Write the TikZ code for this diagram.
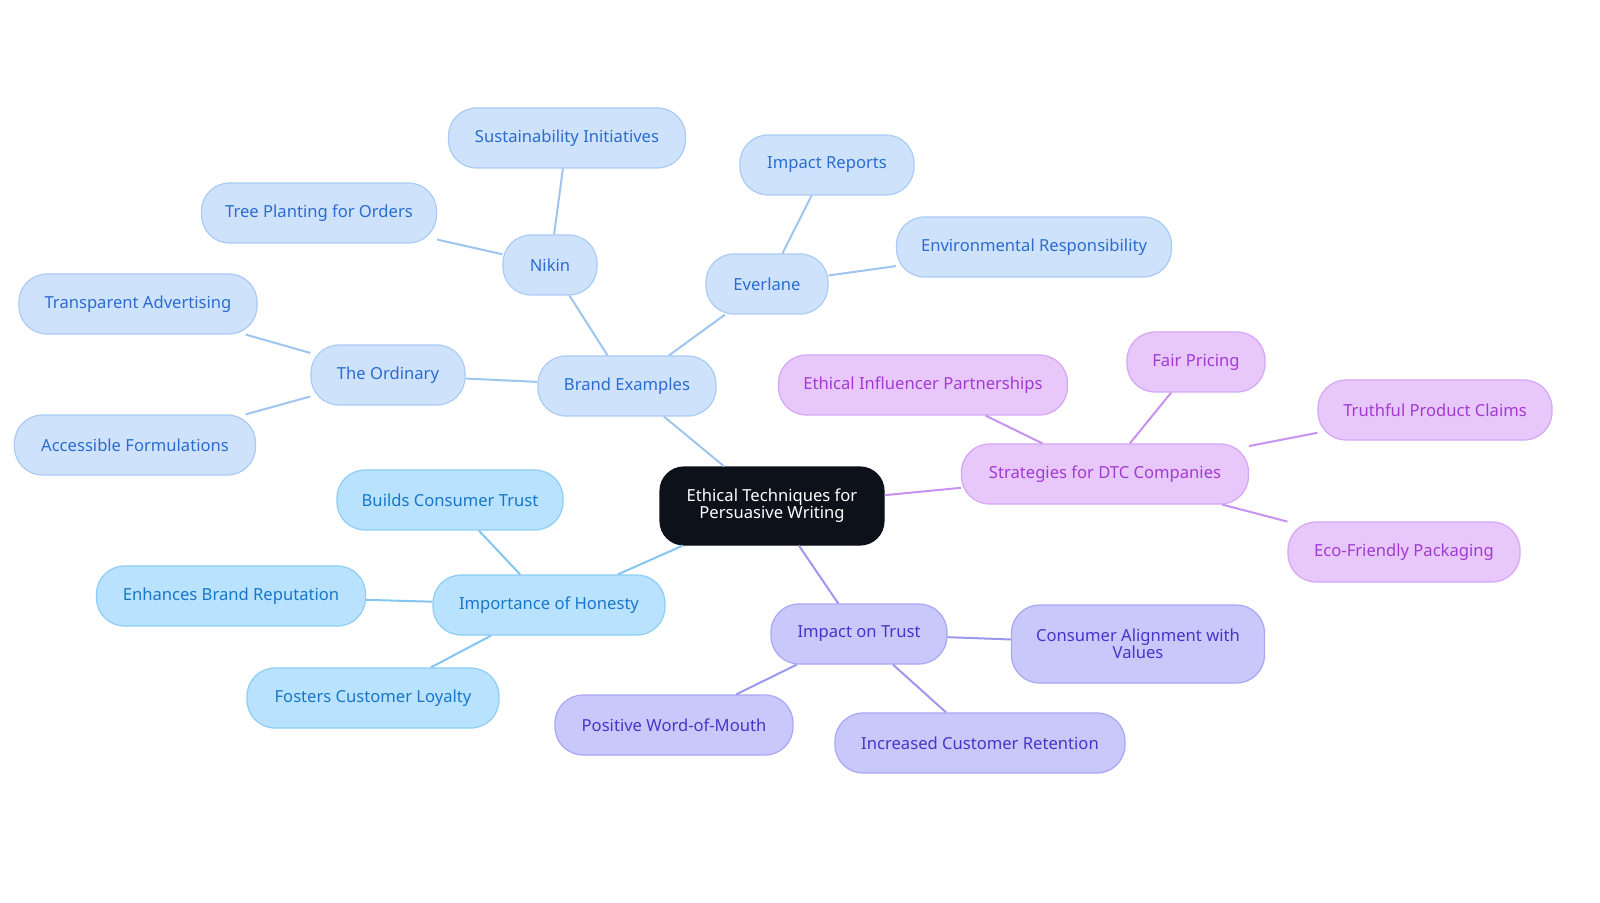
\documentclass[tikz,border=0pt]{standalone}
\usepackage{fontspec}
\setmainfont{Noto Sans}
\definecolor{bF}{HTML}{CFE2FC}\definecolor{bD}{HTML}{A9CBF5}\definecolor{bT}{HTML}{2A6CD0}\definecolor{bE}{HTML}{9EC5F0}
\definecolor{cF}{HTML}{B8E2FD}\definecolor{cD}{HTML}{8ECDF5}\definecolor{cT}{HTML}{1A76C8}\definecolor{cE}{HTML}{84C6F0}
\definecolor{pF}{HTML}{E8C8FB}\definecolor{pD}{HTML}{D5A6F5}\definecolor{pT}{HTML}{A23AD2}\definecolor{pE}{HTML}{C892F0}
\definecolor{lF}{HTML}{C9C8FB}\definecolor{lD}{HTML}{A9A6F5}\definecolor{lT}{HTML}{4535C8}\definecolor{lE}{HTML}{9C98F0}
\definecolor{kF}{HTML}{0C111A}
\tikzset{
 n/.style={rounded corners=14pt,draw,line width=0.6pt,align=center,inner sep=0pt,font=\fontsize{8.3}{8.5}\selectfont},
 B/.style={n,fill=bF,draw=bD,text=bT},
 C/.style={n,fill=cF,draw=cD,text=cT},
 P/.style={n,fill=pF,draw=pD,text=pT},
 L/.style={n,fill=lF,draw=lD,text=lT},
 e/.style={line width=1pt},
}
\newcommand{\nd}[6]{\node[#1,minimum width=#4*0.5pt,minimum height=#5*0.5pt] (#2) at (#3) {#6};}
\begin{document}
\begin{tikzpicture}[x=0.5pt,y=-0.5pt]
\useasboundingbox (0,0) rectangle (1600,903);
\nd{n,fill=kF,draw=kF,text=white,rounded corners=12pt}{c}{772,506}{224}{78}{Ethical Techniques for\\Persuasive Writing}
\nd{B}{be}{627,386}{178}{60}{Brand Examples}
\nd{B}{nk}{550,265}{94}{60}{Nikin}
\nd{B}{si}{567,138}{237}{60}{Sustainability Initiatives}
\nd{B}{tp}{319,213}{235}{60}{Tree Planting for Orders}
\nd{B}{ev}{767,284}{122}{60}{Everlane}
\nd{B}{ir}{827,165}{174}{60}{Impact Reports}
\nd{B}{er}{1034,247}{275}{60}{Environmental Responsibility}
\nd{B}{to}{388,375}{154}{60}{The Ordinary}
\nd{B}{ta}{138,304}{238}{60}{Transparent Advertising}
\nd{B}{af}{135,445}{241}{60}{Accessible Formulations}
\nd{C}{ih}{549,605}{232}{60}{Importance of Honesty}
\nd{C}{bc}{450,500}{226}{60}{Builds Consumer Trust}
\nd{C}{eb}{231,596}{269}{60}{Enhances Brand Reputation}
\nd{C}{fc}{373,698}{252}{60}{Fosters Customer Loyalty}
\nd{L}{it}{859,634}{176}{60}{Impact on Trust}
\nd{L}{ca}{1138,644}{253}{78}{Consumer Alignment with\\Values}
\nd{L}{pw}{674,725}{238}{60}{Positive Word-of-Mouth}
\nd{L}{ic}{980,743}{290}{60}{Increased Customer Retention}
\nd{P}{sd}{1105,474}{287}{60}{Strategies for DTC Companies}
\nd{P}{ei}{923,385}{289}{60}{Ethical Influencer Partnerships}
\nd{P}{fp}{1196,362}{138}{60}{Fair Pricing}
\nd{P}{tc}{1435,410}{234}{60}{Truthful Product Claims}
\nd{P}{ep}{1404,552}{232}{60}{Eco-Friendly Packaging}
\begin{scope}[on background layer/.style={}]
\end{scope}
\begin{pgfinterruptboundingbox}\end{pgfinterruptboundingbox}
\foreach \a/\b in {c/be,be/nk,nk/si,nk/tp,be/ev,ev/ir,ev/er,be/to,to/ta,to/af}{\draw[e,bE] (\a) -- (\b);}
\foreach \a/\b in {c/ih,ih/bc,ih/eb,ih/fc}{\draw[e,cE] (\a) -- (\b);}
\foreach \a/\b in {c/it,it/ca,it/pw,it/ic}{\draw[e,lE] (\a) -- (\b);}
\foreach \a/\b in {c/sd,sd/ei,sd/fp,sd/tc,sd/ep}{\draw[e,pE] (\a) -- (\b);}
\end{tikzpicture}
\end{document}
